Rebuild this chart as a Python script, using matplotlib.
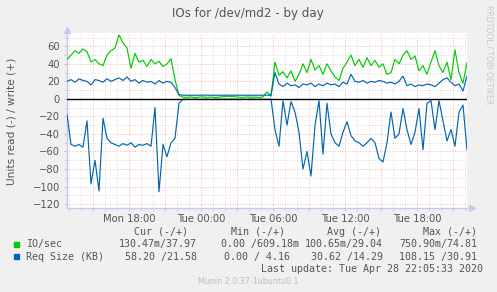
import matplotlib
matplotlib.use("Agg")
import matplotlib.pyplot as plt
import numpy as np

# Munin "IOs for /dev/md2 - by day" -- samples every 20 minutes from Mon 12:50
START_HOUR = 12 + 50 / 60
STEP_HOURS = 20 / 60

# IO/sec, write (+)
io_write = [45, 50, 55, 52, 57, 54, 42, 45, 40, 38, 50, 55, 58, 73, 64, 58, 35, 52,
            42, 44, 37, 45, 40, 43, 37, 40, 46, 22, 4,
            2.0, 1.8, 2.2, 1.6, 2.0, 2.4, 1.8, 2.1, 1.7, 2.0, 2.5, 3.0, 2.8, 2.4,
            2.0, 1.8, 2.2, 1.9, 2.1, 1.7, 2.3,
            8, 3,
            42, 27, 31, 24, 32, 20, 28, 40, 30, 45, 33, 38, 28, 40, 32, 25, 21, 35,
            42, 50, 38, 45, 36, 47, 38, 44, 36, 40, 28, 30, 45, 40, 50,
            55, 45, 49, 32, 38, 28, 42, 55, 38, 30, 42, 22, 56, 30, 18, 41]

# Req Size (KB), write (+)
req_write = [20, 22, 19, 23, 21, 20, 16, 22, 21, 19, 23, 20, 22, 24, 21, 25, 20, 22,
             18, 21, 19, 20, 17, 21, 18, 20, 19,
             13, 5,
             4.2, 4.2, 4.1, 4.2, 4.2, 4.3, 4.2, 4.2, 4.1, 4.2, 4.2, 4.2, 4.3, 4.2,
             4.2, 4.2, 4.1, 4.2, 4.2, 4.2, 4.2, 4.3, 4.2,
             30,
             17, 14, 18, 15, 16, 13, 17, 16, 18, 14, 17, 15, 18, 16, 17, 14, 19, 17,
             28, 20,
             19, 21, 18, 20, 19, 21, 20, 18, 19, 17, 20,
             26,
             15, 17, 14, 16, 15, 17, 16, 14, 18,
             22, 24, 19, 15, 17, 9, 26]

# Req Size (KB), read (-)
req_read = [-18, -52, -54, -52, -55, -25, -97, -70, -105, -22, -45, -50, -52, -54,
            -51, -53, -50, -55, -52, -53, -51, -54, -10, -106, -52, -66, -50, -45, -5,
            -0.4, -0.3, -0.5, -0.2, -0.4, -0.3, -0.3, -0.5, -0.2, -0.4, -0.3, -0.4,
            -0.2, -0.3, -0.5, -0.3, -0.4, -0.2, -0.3, -0.4, -0.3, -0.5, -0.3,
            -35, -54, -2, -30, -3, -15, -38, -80, -60, -88, -30, -2, -63, -5, -40,
            -50, -54, -38, -26, -42, -48, -50, -54, -50, -45, -50, -68, -72, -50,
            -15, -45, -40, -11, -35, -52, -38, -11, -58, -5, -2, -35, -2, -25, -48,
            -35, -54, -15, -7, -58]

x_labels = ["Mon 18:00", "Tue 00:00", "Tue 06:00", "Tue 12:00", "Tue 18:00"]
x_label_hours = [18, 24, 30, 36, 42]

legend_names = ["IO/sec", "Req Size (KB)"]
legend_cur = ["130.47m/37.97", "58.20 /21.58"]
legend_min = ["0.00 /609.18m", "0.00 / 4.16"]
legend_avg = ["100.65m/29.04", "30.62 /14.29"]
legend_max = ["750.90m/74.81", "108.15 /30.91"]

GREEN = "#00CC00"
BLUE = "#0066B3"
BG = "#F0F0F0"
TXT = "#555555"
AXIS = "#C8C8EE"
MAJOR = "#F2A0A0"
MINOR = "#CFCFCF"

W, H = 497, 292
fig = plt.figure(figsize=(W / 100, H / 100), dpi=100, facecolor=BG)


def fx(px):
    return px / W


def fy(py):
    return 1 - py / H


ax = fig.add_axes([fx(67), fy(208), 400 / W, 175 / H])
ax.set_facecolor("white")

hours = START_HOUR + np.arange(len(io_write)) * STEP_HOURS
ax.plot(hours, io_write, color=GREEN, lw=0.85, zorder=3)
ax.plot(hours, req_write, color=BLUE, lw=0.85, zorder=3)
ax.plot(hours, req_read, color=BLUE, lw=0.85, zorder=3)
ax.axhline(0, color="black", lw=1.0, zorder=4)

ax.set_xlim(START_HOUR, START_HOUR + 400 / 12)
ax.set_ylim(-124.5, 75.2)

major_x = np.arange(15, 46, 3)
ax.set_xticks(major_x)
ax.set_xticklabels([x_labels[x_label_hours.index(h)] if h in x_label_hours else ""
                    for h in major_x])
ax.set_xticks(np.arange(13, 47, 1), minor=True)
ax.set_yticks(np.arange(-120, 61, 20))
ax.set_yticks(np.arange(-110, 71, 20), minor=True)

ax.grid(which="major", color=MAJOR, lw=0.6, linestyle=(0, (1, 2)), zorder=1)
ax.grid(which="minor", color=MINOR, lw=0.6, linestyle=(0, (1, 2)), zorder=1)
ax.tick_params(which="both", length=2, width=0.6, labelsize=7.2, labelcolor=TXT)
ax.tick_params(which="major", color=MAJOR)
ax.tick_params(which="minor", color=MINOR)
ax.tick_params(axis="y", pad=3)
ax.tick_params(axis="x", pad=2)

for side in ("top", "right"):
    ax.spines[side].set_visible(False)
for side in ("left", "bottom"):
    ax.spines[side].set_color(AXIS)
    ax.spines[side].set_linewidth(1.0)
ax.plot([0], [1.015], marker="^", ms=4, color=AXIS, transform=ax.transAxes, clip_on=False)
ax.plot([1.013], [0], marker=">", ms=4, color=AXIS, transform=ax.transAxes, clip_on=False)

fig.text(fx(248), fy(13), "IOs for /dev/md2 - by day", ha="center", va="center",
         fontsize=8.6, color=TXT)
fig.text(fx(12), fy(121), "Units read (-) / write (+)", rotation=90, ha="center",
         va="center", fontsize=7.6, color=TXT)
fig.text(fx(489), fy(5), "RRDTOOL / TOBI OETIKER", rotation=270, ha="center",
         va="top", fontsize=5.6, color="#C8C8C8")

# legend block
mono = dict(family="DejaVu Sans Mono", fontsize=7.2, color=TXT, va="center")
for left, head in zip([134, 231, 327, 423], ["Cur (-/+)", "Min (-/+)", "Avg (-/+)", "Max (-/+)"]):
    fig.text(fx(left), fy(232), head, ha="left", **mono)

for row, (name, color) in enumerate(zip(legend_names, [GREEN, BLUE])):
    y = 244.5 + row * 12.3
    fig.patches.append(plt.Rectangle((fx(14), fy(y + 2.5)), 5 / W, 5 / H,
                                     transform=fig.transFigure, color=color))
    fig.text(fx(26.5), fy(y), name, ha="left", **mono)
    fig.text(fx(197), fy(y), legend_cur[row], ha="right", **mono)
    if row == 0:
        fig.text(fx(299), fy(y), legend_min[row], ha="right", **mono)
    else:
        fig.text(fx(224), fy(y), legend_min[row], ha="left", **mono)
    fig.text(fx(383), fy(y), legend_avg[row], ha="right", **mono)
    fig.text(fx(477), fy(y), legend_max[row], ha="right", **mono)

fig.text(fx(483), fy(268.5), "Last update: Tue Apr 28 22:05:33 2020", ha="right", **mono)
fig.text(fx(248), fy(281), "Munin 2.0.37-1ubuntu0.1", ha="center", va="center",
         fontsize=5.8, color="#BDBDBD")

fig.savefig("out.png", dpi=100, facecolor=BG)
